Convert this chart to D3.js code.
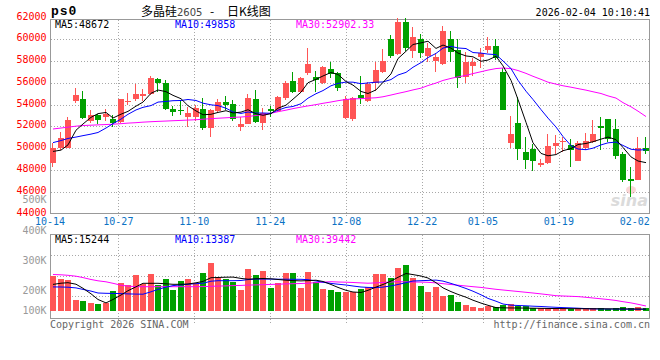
<!DOCTYPE html>
<html><head><meta charset="utf-8">
<script src="https://cdn.jsdelivr.net/npm/d3@7"></script>
<style>body{margin:0;background:#fff}svg{display:block}</style>
</head><body><svg id="c" width="660" height="360"></svg>
<script>
const dates = ["10-14","10-15","10-16","10-17","10-20","10-21","10-22","10-23","10-24","10-27","10-28","10-29","10-30","10-31",
"11-03","11-04","11-05","11-06","11-07","11-10","11-11","11-12","11-13","11-14","11-17","11-18","11-19","11-20","11-21",
"11-24","11-25","11-26","11-27","11-28","12-01","12-02","12-03","12-04","12-05","12-08","12-09","12-10","12-11","12-12",
"12-15","12-16","12-17","12-18","12-19","12-22","12-23","12-24","12-25","12-26","12-29","12-30","12-31",
"01-05","01-06","01-07","01-08","01-09","01-12","01-13","01-14","01-15","01-16","01-19","01-20","01-21","01-22","01-23",
"01-26","01-27","01-28","01-29","01-30","02-02","02-03","02-04"];
const tickLabels = ["10-14","10-27","11-10","11-24","12-08","12-22","01-05","01-19","02-02"];

const open = [48650,49970,50030,54340,54510,52530,53080,52880,52670,52420,
54230,54510,54830,54970,56350,56010,53560,53500,52880,52880,
53560,51810,53430,54260,54050,51960,52210,54510,52270,53630,
53430,54600,56160,55180,56930,56560,56030,57270,56870,52730,
52710,54880,54320,55950,56960,60030,58620,61550,58920,60000,
58460,57960,57770,60000,59020,56560,57540,58340,59020,59380,
57020,50430,52270,49610,49910,48500,48650,50190,50580,50280,
48830,49970,50580,52020,52640,51750,49450,47210,47120,49970];
const high = [50430,51500,52880,55490,55270,53500,53170,53590,53040,54550,
55090,55890,55430,56620,56400,56260,53890,54420,53800,53960,
54570,53560,54510,54780,54420,52830,54970,55340,53650,53860,
54780,56160,57040,56500,59230,57080,57570,57940,57020,54780,
54690,56620,56100,57940,59080,60400,61990,61910,61160,60490,
59630,58710,61180,60760,60000,58860,58280,59170,60240,60000,
57330,52940,54660,51040,50340,49050,51290,51200,51040,50800,
50670,51350,52580,52830,52640,52670,49660,48280,51040,50990];
const low = [48230,49800,49970,54110,52640,52270,52210,52530,51960,52300,
54000,54350,54350,54880,55180,53500,52940,53040,51960,52510,
51660,51040,53340,53500,52510,51590,52210,52270,51660,52880,
53340,54420,55090,55090,56720,55180,55860,56410,55270,52640,
52490,54020,54200,55240,56870,58250,58560,58920,58250,58250,
57940,56950,57640,57940,55550,55950,56640,57330,58710,58100,
53500,49970,48900,48070,47910,48230,48530,49510,49660,48280,
48800,49820,50430,49820,50580,48960,46900,45520,47060,49510];
const close = [49970,50890,52580,54880,52760,53040,52580,53130,52330,54510,
54350,54970,54970,56410,56010,53590,53290,53400,53190,53650,
51810,53500,54260,53960,52640,52210,54570,52420,53250,53400,
54720,55950,55180,56440,57770,56270,57480,56790,55520,54550,
54600,54570,55860,57180,58000,58490,61620,59230,60240,58770,
59230,58330,60760,58860,56470,57940,57940,58710,59380,58250,
53500,51290,49910,48900,48830,48650,50190,50490,50670,49820,
50490,50670,51290,51870,50800,49290,47060,46990,49970,49750];
const volume = [276500,252800,244900,86900,79000,63200,55300,60800,158000,223600,
205400,284400,213300,292300,205400,252800,165900,237000,252800,218800,
297800,381600,263100,252800,226700,165900,331800,284400,316000,184100,
223600,297800,297800,179300,305700,226700,173800,165900,152500,147700,
147700,173800,192000,292300,292300,263100,342100,363400,263100,197500,
152500,192000,120900,126400,73500,47400,34000,26100,37100,31600,
47400,55300,41900,41900,26100,21300,21300,21300,21300,15800,
21300,21300,21300,21300,15800,21300,29200,21300,31600,21300];

const ma5 = [49700,49820,50300,51650,52220,52830,53170,53280,52770,53120,
53380,53860,54230,55040,55340,55190,54850,54540,53900,53420,
53070,53110,53280,53440,53230,53310,53530,53160,53020,53170,
53670,53950,54500,55140,56010,56320,56630,56950,56770,56120,
55790,55210,55020,55350,56040,56820,58230,58900,59520,59670,
59820,59160,59470,59190,58730,58470,58390,57980,58090,58440,
57560,56230,54470,52370,50490,49520,49300,49410,49770,49960,
50330,50430,50590,50830,51020,50780,50060,49200,48820,48672];
const ma10 = [50510,50700,50890,51020,51150,51290,51440,51850,52250,52670,
53110,53510,53750,53910,54230,54290,54360,54380,54470,54380,
54130,53980,53910,53670,53330,53190,53320,53220,53230,53200,
53490,53740,53830,54080,54590,55000,55290,55730,55950,56070,
56060,55920,55990,56060,56080,56300,56720,56960,57430,57860,
58320,58700,59190,59350,59200,59150,58780,58730,58640,58590,
58010,57310,56230,55230,54470,53540,52760,51940,51070,50230,
49920,49860,50000,50300,50490,50560,50250,49900,49830,49858];
const ma30 = [51760,51850,51930,52020,52080,52110,52140,52170,52200,52250,
52300,52340,52390,52430,52460,52490,52520,52550,52580,52610,
52660,52710,52750,52790,52830,52860,52910,53000,53090,53210,
53350,53490,53630,53770,53880,54000,54120,54240,54360,54470,
54520,54550,54590,54630,54720,54880,55030,55190,55350,55510,
55750,55980,56220,56410,56550,56680,56850,57020,57170,57310,
57360,57300,57130,56870,56600,56320,56060,55880,55730,55600,
55470,55330,55180,55020,54800,54600,54180,53800,53400,52902.33];

const vma5 = [210100,219600,223600,211700,179300,135900,90900,64000,90900,126400,
160400,191200,218800,218800,218800,214900,210900,210900,213300,222800,
233800,263100,264700,267000,267800,257500,251200,254400,256800,254400,
248900,243300,240200,237800,240200,243300,233100,209400,186400,163500,
150100,146200,163500,188800,209400,236200,266200,296300,287600,276500,
260700,223600,182500,153300,131100,109000,85300,62400,45000,26900,
25000,24000,23500,23000,22000,21000,20000,19500,19000,18500,
18000,18000,17500,17500,17000,16500,16500,16000,15800,15244];
const vma10 = [190400,189600,188000,182500,170600,157200,142200,139800,139000,137500,
135100,133500,132700,151700,170600,188800,200700,206200,211700,215700,
219600,235400,239400,239400,239400,241000,248100,252800,252000,252000,
251200,251200,250400,250400,247300,237000,227500,218000,211700,205400,
197500,189600,186400,184900,188800,198300,209400,223600,237000,239400,
241700,244100,236200,218000,199900,177800,156400,128000,99500,77400,
55300,45800,43500,41100,37900,35600,32400,29200,26900,24500,
22100,19000,16600,15800,15500,15000,14700,14300,13900,13387];
const vma30 = [288400,286000,282000,274900,263900,248900,238600,230600,218800,203800,
196700,192000,192000,192000,192000,192000,192000,192000,192000,192000,
192800,195100,196700,198300,200700,202200,204600,206200,207800,210100,
211700,214100,215700,217300,219600,224400,228300,231500,229100,227500,
225200,222000,219600,222000,225200,229100,231500,229900,229100,228300,
226700,222000,215700,209400,203800,197500,192000,186400,179300,171400,
165900,159600,154100,147700,142200,135100,128800,120900,118500,116100,
113800,108200,102700,96400,90900,83000,73500,64000,52900,39442];

const priceLabels = [44000,46000,48000,50000,52000,54000,56000,58000,60000,62000];
const priceGrid = [46000,48000,50000,52000,54000,56000,58000,60000];
const volLabels = [100000,200000,300000,400000,500000];
const volGrid = [120000,280000,440000];

const svg = d3.select("#c");
const L = 50, R = 650;
const n = dates.length;
const x = d3.scaleBand().domain(d3.range(n)).range([L, R]);
const gx = d3.scaleLinear().domain([0, n - 1]).range([L, R]);
const y = d3.scaleLinear().domain([44000, 62000]).range([213.5, 17.5]);
const yv = d3.scaleLinear().domain([0, 606000]).range([311, 234.3]);
const yvLab = d3.scaleLinear().domain([200000, 500000]).range([294, 203.3]);
const mono = "'DejaVu Sans Mono', monospace";
const RED = "#ff5555", GREEN = "#00a000", GRID = "#a8a8a8", BORDER = "#999";

svg.append("rect").attr("width", 660).attr("height", 360).attr("fill", "#fff");

const pTop = 19.5, pBot = 213.5, vTop = 234.5, vBot = 318.5;
const xl = L + 0.5, xr = R - 0.5;

// horizontal grid
const g = svg.append("g").attr("stroke", GRID).attr("stroke-dasharray", "1,2").attr("shape-rendering", "crispEdges");
priceGrid.forEach(v => {
  const yy = Math.round(y(v)) + 0.5;
  g.append("line").attr("x1", xl).attr("x2", xr).attr("y1", yy).attr("y2", yy);
});
volGrid.forEach(v => {
  const yy = Math.round(yv(v)) + 0.5;
  g.append("line").attr("x1", xl).attr("x2", xr).attr("y1", yy).attr("y2", yy);
});
// vertical grid
const tickIdx = tickLabels.map(t => dates.indexOf(t));
tickIdx.filter(i => i > 0 && i < n - 5).forEach(i => {
  const xx = Math.round(gx(i)) + 0.5;
  g.append("line").attr("x1", xx).attr("x2", xx).attr("y1", pTop).attr("y2", pBot + 4);
  g.append("line").attr("x1", xx).attr("x2", xx).attr("y1", vTop).attr("y2", vBot + 4);
});

// borders
svg.append("rect").attr("x", xl).attr("y", pTop).attr("width", xr - xl).attr("height", pBot - pTop)
  .attr("fill", "none").attr("stroke", BORDER).attr("shape-rendering", "crispEdges");
svg.append("rect").attr("x", xl).attr("y", vTop).attr("width", xr - xl).attr("height", vBot - vTop)
  .attr("fill", "none").attr("stroke", BORDER).attr("shape-rendering", "crispEdges");

// watermark
const wm = svg.append("g").attr("opacity", 0.35);
wm.append("ellipse").attr("cx", 631).attr("cy", 190).attr("rx", 5).attr("ry", 4).attr("fill", "#e88");
wm.append("text").attr("x", 648).attr("y", 206).attr("text-anchor", "end")
  .attr("font-family", "'DejaVu Sans', sans-serif").attr("font-size", 16).attr("font-style", "italic")
  .attr("font-weight", "bold").attr("fill", "#999").text("sina");

// axis labels
svg.append("g").selectAll("text").data(priceLabels).join("text")
  .attr("x", 46.5).attr("y", d => y(d) + 2).attr("text-anchor", "end")
  .attr("font-family", mono).attr("font-size", 10).attr("fill", "#f00").text(d => d);
svg.append("g").selectAll("text").data(volLabels).join("text")
  .attr("x", 46.5).attr("y", d => Math.min(yvLab(d), vBot - 4.2)).attr("text-anchor", "end")
  .attr("font-family", mono).attr("font-size", 10).attr("fill", "#999").text(d => (d / 1000) + "K");
svg.append("g").selectAll("text").data(tickLabels).join("text")
  .attr("x", d => gx(dates.indexOf(d))).attr("y", 224.5).attr("text-anchor", "middle")
  .attr("font-family", mono).attr("font-size", 10).attr("fill", "#0b72c4").text(d => d);

// candles
const cx = i => Math.round(x(i));
const bw = 6;
const cg = svg.append("g").attr("shape-rendering", "crispEdges");
d3.range(n).forEach(i => {
  const up = close[i] >= open[i];
  const col = up ? RED : GREEN;
  const xx = cx(i);
  cg.append("line").attr("x1", xx + 2.5).attr("x2", xx + 2.5)
    .attr("y1", y(high[i])).attr("y2", y(low[i])).attr("stroke", col);
  const t = y(Math.max(open[i], close[i])), b = y(Math.min(open[i], close[i]));
  cg.append("rect").attr("x", xx).attr("y", t).attr("width", bw).attr("height", Math.max(1, b - t)).attr("fill", col);
  const vt = yv(volume[i]);
  cg.append("rect").attr("x", xx).attr("y", vt).attr("width", bw).attr("height", yv(0) - vt).attr("fill", col);
});

// MA lines
const mid = i => cx(i) + 3;
const lp = d3.line().x((d, i) => mid(i)).y(d => y(d));
const lv = d3.line().x((d, i) => mid(i)).y(d => yv(d));
[[ma30, "#ff00ff"], [ma10, "#0000ff"], [ma5, "#000"]].forEach(([a, c]) =>
  svg.append("path").attr("d", lp(a)).attr("fill", "none").attr("stroke", c).attr("stroke-width", 1));
[[vma30, "#ff00ff"], [vma10, "#0000ff"], [vma5, "#000"]].forEach(([a, c]) =>
  svg.append("path").attr("d", lv(a)).attr("fill", "none").attr("stroke", c).attr("stroke-width", 1));

// MA legends
const leg = (yy, a5, a10, a30, dec) => {
  const f = v => dec ? d3.format(".2f")(v) : String(v);
  svg.append("text").attr("x", 55).attr("y", yy).attr("font-family", mono).attr("font-size", 10).attr("fill", "#000").text("MA5:" + a5[n - 1]);
  svg.append("text").attr("x", 175).attr("y", yy).attr("font-family", mono).attr("font-size", 10).attr("fill", "#0000ff").text("MA10:" + a10[n - 1]);
  svg.append("text").attr("x", 296).attr("y", yy).attr("font-family", mono).attr("font-size", 10).attr("fill", "#ff00ff").text("MA30:" + f(a30[n - 1]));
};
leg(27.5, ma5, ma10, ma30, true);
leg(242.5, vma5, vma10, vma30, false);

// header
svg.append("text").attr("x", 51).attr("y", 14.5).attr("font-family", "'Liberation Mono', monospace")
  .attr("font-weight", "bold").attr("font-size", 13).attr("letter-spacing", 1).attr("fill", "#000").text("ps0");
const title = svg.append("text").attr("y", 16)
  .attr("font-family", "'Noto Sans CJK SC', sans-serif").attr("font-size", 12).attr("fill", "#000");
title.append("tspan").attr("x", 141).text("多晶硅");
title.append("tspan").attr("x", 177).attr("font-family", "'DejaVu Sans', sans-serif").attr("font-size", 10).attr("fill", "#444").text("2605");
title.append("tspan").attr("x", 210).text("-");
title.append("tspan").attr("x", 227).text("日K线图");
svg.append("text").attr("x", 650).attr("y", 16).attr("text-anchor", "end")
  .attr("font-family", mono).attr("font-size", 10).attr("fill", "#000").text("2026-02-04 10:10:41");

// footer
svg.append("text").attr("x", 50).attr("y", 327.5).attr("font-family", mono).attr("font-size", 10)
  .attr("fill", "#666").text("Copyright 2026 SINA.COM");
svg.append("text").attr("x", 650).attr("y", 327.5).attr("text-anchor", "end").attr("font-family", mono)
  .attr("font-size", 10).attr("fill", "#666").text("http://finance.sina.com.cn");
</script>
</body></html>
